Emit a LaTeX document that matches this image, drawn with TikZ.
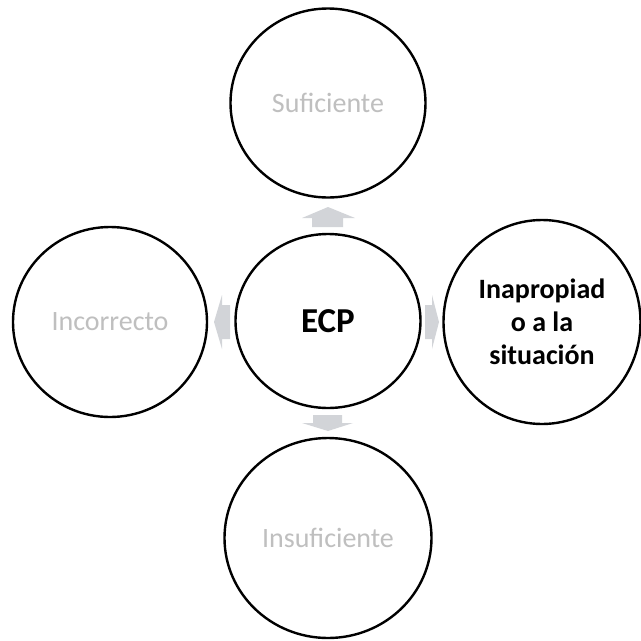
\documentclass[tikz,border=0pt]{standalone}
\usepackage{fontspec}
\setmainfont{Carlito}
\usetikzlibrary{shapes.geometric}
\definecolor{arrowgray}{HTML}{D2D4D8}
\definecolor{textgray}{HTML}{BFBFBF}
\tikzset{
  bubble/.style={draw=black, line width=2.4pt, fill=white, ellipse, inner sep=0pt, align=center,
    font=\fontsize{28}{33}\selectfont},
  faded/.style={text=textgray},
  strong/.style={text=black, font=\fontsize{28}{33}\selectfont\bfseries},
  blockarrow/.style={fill=arrowgray, draw=none}
}
\begin{document}
\begin{tikzpicture}[x=1pt,y=-1pt]
\useasboundingbox (0,0) rectangle (641,641);
\node[bubble, minimum width=185pt, minimum height=174pt, text=black, font=\fontsize{35}{40}\selectfont\bfseries] (c) at (328,321) {ECP};
\node[bubble, faded, minimum width=195pt, minimum height=189pt] (t) at (328,103) {Suficiente};
\node[bubble, faded, minimum width=207pt, minimum height=200pt] (b) at (328,538) {Insuficiente};
\node[bubble, faded, minimum width=194pt, minimum height=190pt] (l) at (110,322) {Incorrecto};
\node[bubble, strong, minimum width=197pt, minimum height=204pt] (r) at (542,322) {Inapropiad\\o a la\\situación};
% up arrow
\coordinate (ut) at (328,207);
\fill[blockarrow] (ut) -- (355,218) -- (343,218) -- (343,227) -- (312,227) -- (312,218) -- (302,218) -- cycle;
% down arrow
\coordinate (dt) at (328,431);
\fill[blockarrow] (dt) -- (353,423) -- (342,423) -- (342,415) -- (313,415) -- (313,423) -- (302,423) -- cycle;
% left arrow
\coordinate (lt) at (214,322);
\fill[blockarrow] (lt) -- (222,295) -- (222,305) -- (230,305) -- (230,339) -- (222,339) -- (222,349) -- cycle;
% right arrow
\coordinate (rt) at (439,322);
\fill[blockarrow] (rt) -- (432,295) -- (432,305) -- (425,305) -- (425,339) -- (432,339) -- (432,349) -- cycle;
\end{tikzpicture}
\end{document}
